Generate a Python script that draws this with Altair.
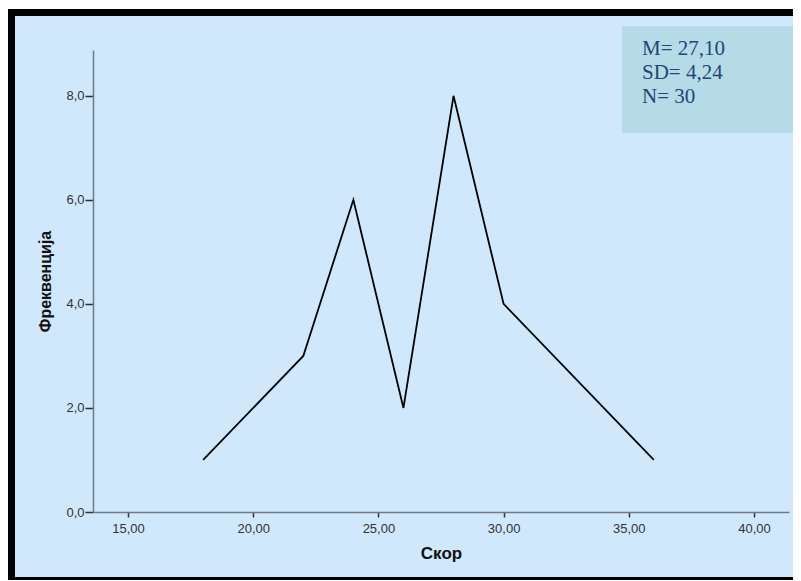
import altair as alt
import pandas as pd

# Data
scores = [18, 22, 24, 26, 28, 30, 36]
freqs = [1, 3, 6, 2, 8, 4, 1]
stats_lines = ["M= 27,10", "SD= 4,24", "N= 30"]

df = pd.DataFrame({"score": scores, "freq": freqs})

BG = "#cfe8fb"
BOX = "#b5dbe6"

W, H = 696, 462

xscale = alt.Scale(domain=[13.6, 41.4], nice=False, zero=False)
yscale = alt.Scale(domain=[0, 8.88], nice=False)

frame = alt.Chart(pd.DataFrame({"a": [0]})).mark_rect(
    fill=BG, stroke="black", strokeWidth=7
).encode(
    x=alt.value(-81.5), x2=alt.value(720), y=alt.value(-37.5), y2=alt.value(530.5)
)

box = alt.Chart(pd.DataFrame({"a": [0]})).mark_rect(fill=BOX).encode(
    x=alt.value(529), x2=alt.value(706), y=alt.value(-24), y2=alt.value(83)
)

stats_df = pd.DataFrame({"t": stats_lines, "i": [0, 1, 2]})
stats = alt.Chart(stats_df).mark_text(
    align="left", baseline="alphabetic", font="Liberation Serif", fontSize=21,
    color="#23457a"
).encode(
    x=alt.value(549),
    y=alt.Y("i:O", scale=alt.Scale(type="point", range=[5, 53], padding=0), axis=None),
    text="t:N",
)

line = alt.Chart(df).mark_line(color="black", strokeWidth=1.8).encode(
    x=alt.X(
        "score:Q", scale=xscale,
        axis=alt.Axis(
            values=[15, 20, 25, 30, 35, 40],
            labelExpr="replace(format(datum.value, '.2f'), '.', ',')",
            title="Скор", grid=False, zindex=1,
            domainColor="#6f7a84", domainWidth=1.5,
            tickColor="#333333", tickSize=5, tickWidth=1.5,
            labelFont="Liberation Sans", labelFontSize=13, labelColor="#333333",
            labelPadding=5,
            titleFont="Liberation Sans", titleFontSize=17, titleFontWeight="bold",
            titleColor="#111111", titlePadding=10,
        ),
    ),
    y=alt.Y(
        "freq:Q", scale=yscale,
        axis=alt.Axis(
            values=[0, 2, 4, 6, 8],
            labelExpr="replace(format(datum.value, '.1f'), '.', ',')",
            title="Фреквенција", grid=False, zindex=1,
            domainColor="#6f7a84", domainWidth=1.5,
            tickColor="#333333", tickSize=8, tickWidth=1.5,
            labelFont="Liberation Sans", labelFontSize=13, labelColor="#333333",
            labelPadding=1,
            titleFont="Liberation Sans", titleFontSize=16, titleFontWeight="bold",
            titleColor="#111111", titlePadding=12,
        ),
    ),
)

chart = alt.layer(frame, box, stats, line).resolve_scale(y="independent").properties(
    width=W, height=H,
    autosize=alt.AutoSizeParams(type="none"),
    padding={"left": 85, "top": 42, "right": 4, "bottom": 68},
    background="white",
).configure_view(stroke=None)

chart.save("out.html", embed_options={"renderer": "svg", "actions": False})
